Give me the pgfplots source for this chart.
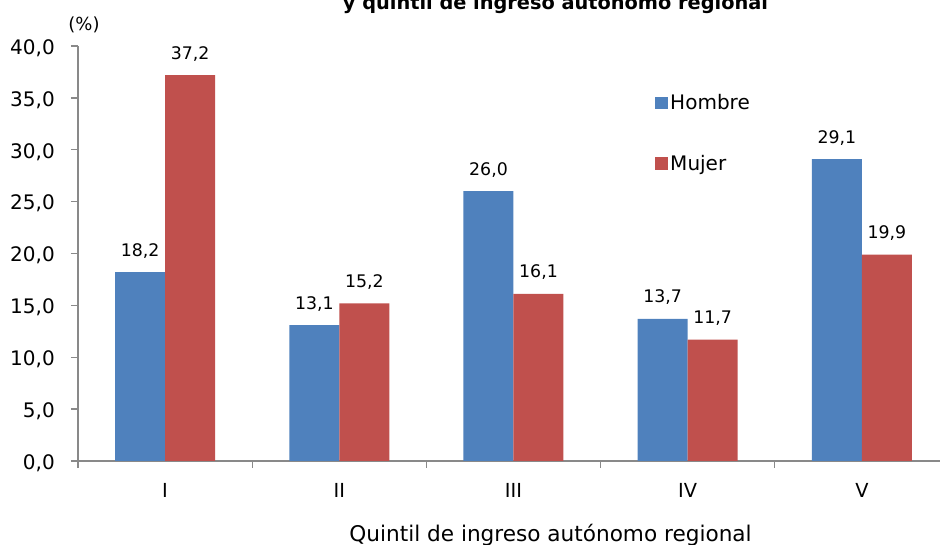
\documentclass[border=0pt]{standalone}
\usepackage{pgfplots}
\pgfplotsset{compat=1.18}
\usepackage{fontspec}
\setmainfont{DejaVu Sans}
\definecolor{hblue}{HTML}{4F81BD}
\definecolor{mred}{HTML}{C0504D}
\definecolor{axgray}{HTML}{898989}
\begin{document}
\begin{tikzpicture}
\useasboundingbox (0,0) rectangle (705pt,408.75pt);
\clip (0,0) rectangle (705pt,408.75pt);
\begin{axis}[
 at={(58.5pt,63pt)}, anchor=south west,
 width=653.25pt, height=311.25pt, scale only axis,
 xmin=-0.5, xmax=4.5, ymin=0, ymax=40,
 clip=false,
 axis lines=left,
 axis line style={-, axgray, line width=1.3pt},
 ytick={0,5,...,40},
 xtick={0,...,4},
 xticklabels={I,II,III,IV,V},
 minor xtick={-0.5,0.5,...,4.5},
 major x tick style={draw=none},
 tick align=outside,
 tick style={axgray, line width=1pt},
 major tick length=5.25pt,
 minor tick length=5.25pt,
 /pgf/number format/fixed,
 /pgf/number format/fixed zerofill,
 /pgf/number format/precision=1,
 /pgf/number format/use comma,
 /pgf/number format/assume math mode=true,
 yticklabel style={font=\fontsize{15}{18}\selectfont, anchor=east, inner sep=0pt, xshift=-12pt, yshift=-1.5pt},
 xticklabel style={font=\fontsize{14.5}{17}\selectfont, anchor=base, inner sep=0pt, yshift=-22.5pt},
 ybar=0pt, bar width=37.5pt,
 nodes near coords,
 nodes near coords style={font=\fontsize{13}{15}\selectfont, anchor=base, yshift=12pt, text=black},
 legend style={draw=none, fill=none, at={(0.6625,0.8896)}, anchor=north west,
   font=\fontsize{15}{18}\selectfont, row sep=28.5pt, inner sep=0pt, outer sep=0pt},
 legend cell align=left,
]
\addplot[fill=hblue, draw=none, legend image code/.code={\fill[hblue] (0pt,-4.7pt) rectangle (9.4pt,4.7pt);}]
  coordinates {(0,18.2) (1,13.1) (2,26.0) (3,13.7) (4,29.1)};
\addlegendentry{Hombre}
\addplot[fill=mred, draw=none, legend image code/.code={\fill[mred] (0pt,-4.7pt) rectangle (9.4pt,4.7pt);}]
  coordinates {(0,37.2) (1,15.2) (2,16.1) (3,11.7) (4,19.9)};
\addlegendentry{Mujer}
\end{axis}
\node[anchor=base, font=\bfseries\fontsize{14.5}{17}\selectfont] at (416.6pt,401.6pt) {y quintil de ingreso autónomo regional};
\node[font=\fontsize{13.5}{16}\selectfont] at (63pt,390pt) {(\%)};
\node[anchor=base, font=\fontsize{16.2}{19}\selectfont] at (412.9pt,2.5pt) {Quintil de ingreso autónomo regional};
\end{tikzpicture}
\end{document}
